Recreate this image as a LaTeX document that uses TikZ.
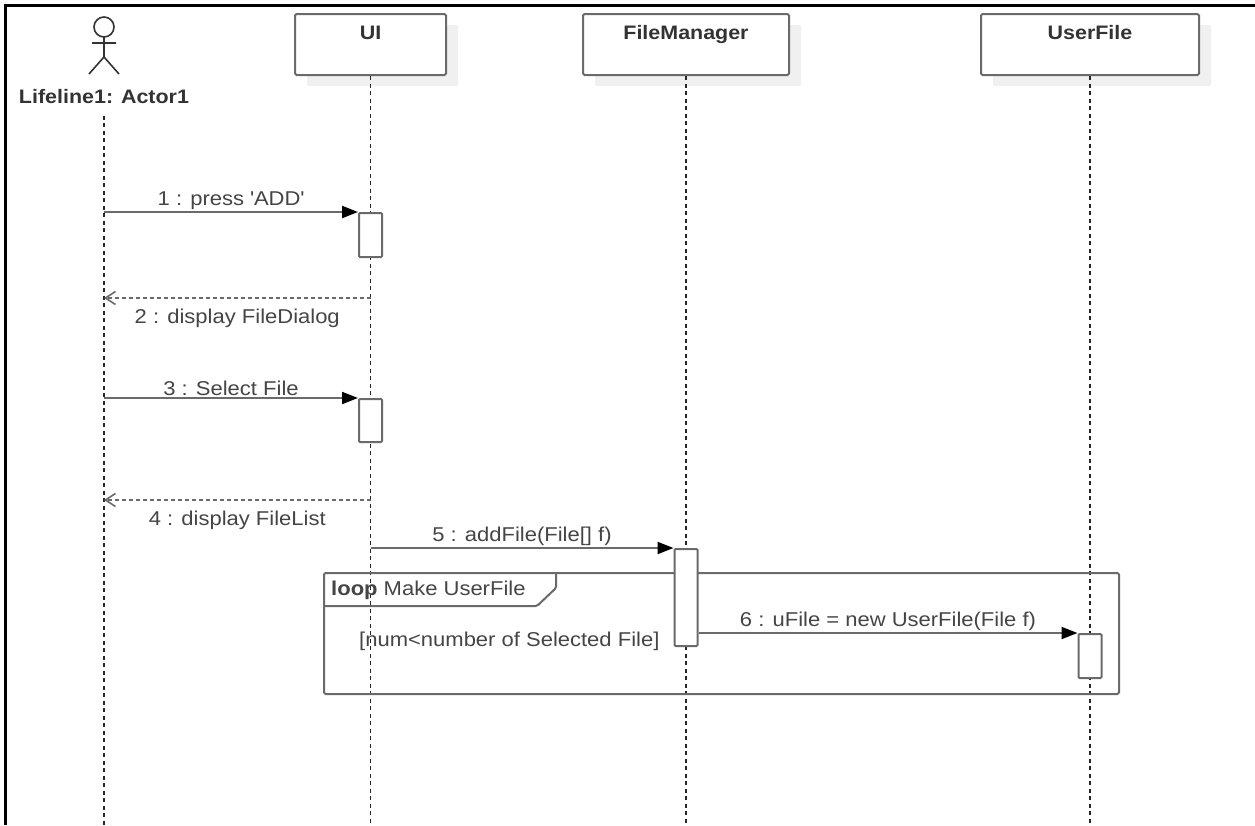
\documentclass[tikz,border=0pt]{standalone}
\usepackage{fontspec}
\setmainfont{Liberation Sans}[FakeStretch=1.1]
\usetikzlibrary{arrows.meta, shadows, positioning}

\definecolor{nametext}{HTML}{333333}
\definecolor{msgtext}{HTML}{454545}
\definecolor{umlline}{HTML}{6A6A6A}
\definecolor{umlshadow}{HTML}{F0F0F0}

\tikzset{
  headbox/.style={draw=umlline, line width=2pt, rounded corners=1.5pt, fill=white,
    minimum height=61pt, inner sep=0pt,
    drop shadow={shadow xshift=12pt, shadow yshift=-11pt, fill=umlshadow, opacity=1, draw=none}},
  headname/.style={font=\fontsize{19.5}{23}\selectfont\bfseries, text=nametext, anchor=base},
  lifeline/.style={black!85, line width=1.5pt, dash pattern=on 4pt off 3.5pt},
  actorline/.style={nametext, line width=1.6pt},
  act/.style={draw=umlline, line width=2pt, fill=white, minimum width=23pt,
    rounded corners=1pt, inner sep=0pt, anchor=north},
  msg/.style={umlline, line width=2pt, -{Triangle[length=16pt,width=12pt,color=black]}},
  reply/.style={umlline, line width=1.6pt, dash pattern=on 4pt off 3pt,
    -{Straight Barb[length=10pt,width=13pt]}},
  msglabel/.style={font=\fontsize{20}{24}\selectfont, text=msgtext, inner sep=1pt},
  replylabel/.style={msglabel, anchor=base, yshift=-25pt},
  frame/.style={draw=umlline, line width=2pt, rounded corners=1.5pt}
}

\begin{document}
\begin{tikzpicture}[x=1pt, y=-1pt]
    \useasboundingbox (0,0) rectangle (1255,825);
    \fill[white] (0,0) rectangle (1255,825);
    \coordinate (bottom) at (0,825);

    % Outer border (top and left only)
    \draw[black, line width=3pt] (5,825) -- (5,5.5) -- (1255,5.5);

    % Actor
    \draw[actorline] (104,27) circle (10pt);
    \draw[actorline] (104,37) -- (104,57) (92,43) -- (116,43)
        (89,74) -- (104,57) -- (119,74);
    \node[headname] (actorname) at (104,103) {Lifeline1: Actor1};

    % Lifeline heads
    \node[headbox, minimum width=151pt] (ui) at (370.5,44.5) {};
    \node[headbox, minimum width=206pt] (fm) at (686,44.5) {};
    \node[headbox, minimum width=218pt] (uf) at (1090,44.5) {};
    \node[headname] (uiname) at ([yshift=-26.5pt]ui.north) {UI};
    \node[headname] (fmname) at ([yshift=-26.5pt]fm.north) {FileManager};
    \node[headname] (ufname) at ([yshift=-26.5pt]uf.north) {UserFile};

    % Lifelines
    \draw[lifeline] ([yshift=-9pt]actorname.south) -- (actorname.south |- bottom);
    \draw[lifeline] (ui.south) -- (ui.south |- bottom);
    \draw[lifeline] (fm.south) -- (fm.south |- bottom);
    \draw[lifeline] (uf.south) -- (uf.south |- bottom);

    % Loop fragment
    \node[frame, minimum width=795pt, minimum height=121pt, anchor=north west] (loop) at (323,572) {};
    \draw[frame] ([xshift=233pt]loop.north west) -- ++(0,16) -- ++(-19,18)
        -- ([yshift=-34pt]loop.north west);
    \node[msglabel, anchor=base west] (looptitle) at ([xshift=7pt, yshift=-23pt]loop.north west)
        {\textbf{loop} Make UserFile};
    \node[msglabel, anchor=base west] (guard) at ([xshift=35pt, yshift=-74pt]loop.north west)
        {[num<number of Selected File]};

    % Activations
    \node[act, minimum height=44pt] (a1) at (ui.south |- 0,212) {};
    \node[act, minimum height=43pt] (a3) at (ui.south |- 0,398) {};
    \node[act, minimum height=97pt] (a5) at (fm.south |- 0,548) {};
    \node[act, minimum height=44pt] (a6) at (uf.south |- 0,633) {};

    % Messages
    \draw[msg] (actorname.south |- a1.north) -- (a1.north west)
        node[msglabel, midway, above] {1 : press \textquotesingle ADD\textquotesingle};
    \coordinate (r2) at (ui.south |- 0,298);
    \draw[reply] (r2) -- (r2 -| actorname.south)
        node[replylabel, midway] {2 : display FileDialog};
    \draw[msg] (actorname.south |- a3.north) -- (a3.north west)
        node[msglabel, midway, above] {3 : Select File};
    \coordinate (r4) at (ui.south |- 0,500);
    \draw[reply] (r4) -- (r4 -| actorname.south)
        node[replylabel, midway] {4 : display FileList};
    \draw[msg] (ui.south |- a5.north) -- (a5.north west)
        node[msglabel, midway, above] {5 : addFile(File[] f)};
    \draw[msg] (a5.east |- a6.north) -- (a6.north west)
        node[msglabel, midway, above] {6 : uFile = new UserFile(File f)};
\end{tikzpicture}
\end{document}
